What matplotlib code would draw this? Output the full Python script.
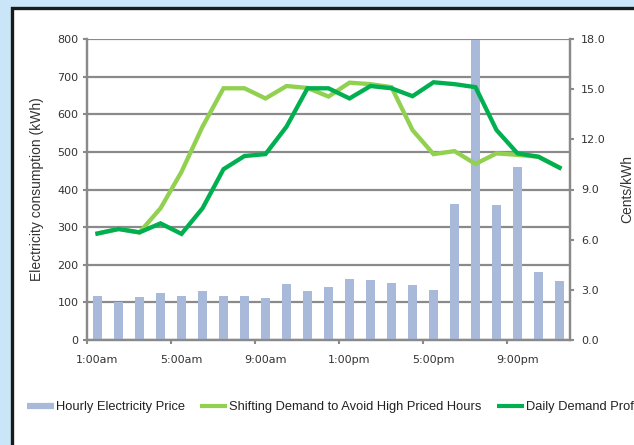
import numpy as np
import matplotlib.pyplot as plt
from matplotlib.patches import Rectangle
from matplotlib.lines import Line2D

hours = ['1:00am', '2:00am', '3:00am', '4:00am', '5:00am', '6:00am', '7:00am', '8:00am',
         '9:00am', '10:00am', '11:00am', '12:00pm', '1:00pm', '2:00pm', '3:00pm', '4:00pm',
         '5:00pm', '6:00pm', '7:00pm', '8:00pm', '9:00pm', '10:00pm', '11:00pm']
price = [2.63, 2.29, 2.57, 2.81, 2.63, 2.93, 2.63, 2.63, 2.51, 3.33, 2.93, 3.17,
         3.63, 3.57, 3.39, 3.27, 2.99, 8.11, 17.94, 8.05, 10.33, 4.09, 3.51]
shifting = [283, 295, 286, 350, 447, 567, 669, 669, 642, 675, 670, 647,
            684, 680, 672, 558, 494, 502, 468, 496, 492, 487, 458]
daily = [283, 295, 286, 310, 282, 350, 454, 489, 494, 567, 669, 669,
         642, 675, 669, 648, 685, 680, 672, 558, 496, 487, 458]

bar_c = '#a9b9da'
light_c = '#92d050'
dark_c = '#00b050'
grid_c = '#8a8a8a'
txt_c = '#333333'

W, H = 634, 445
fig = plt.figure(figsize=(W / 100, H / 100), dpi=100)
fig.patch.set_facecolor('#c9e5f7')
fig.patches.append(Rectangle((11.5 / W, -0.1), 1.2, 1.1 - 8 / H, transform=fig.transFigure,
                             facecolor='white', edgecolor='#1a1a1a', linewidth=2.4, zorder=-5))

pos = [87 / W, 1 - 340 / H, (570 - 87) / W, (340 - 39) / H]
ax = fig.add_axes(pos)
ax2 = ax.twinx()
ax3 = ax.twinx()

x = np.arange(len(hours))

# gridlines (behind bars)
ax.set_ylim(0, 800)
ax.set_yticks(range(0, 801, 100))
ax.grid(axis='y', color=grid_c, linewidth=1.6)
ax.set_axisbelow(True)
ax.set_facecolor('none')

# bars on right axis
ax2.bar(x, price, width=0.4, color=bar_c, zorder=2)
ax2.set_ylim(0, 18)
ax2.set_yticks(np.arange(0, 18.1, 3))
ax2.set_yticklabels(['%.1f' % v for v in np.arange(0, 18.1, 3)])

# lines on top
ax3.plot(x, shifting, color=light_c, linewidth=3.1, solid_joinstyle='miter')
ax3.plot(x, daily, color=dark_c, linewidth=3.1, solid_joinstyle='miter')
ax3.set_ylim(0, 800)
ax3.set_yticks([])
for s in ax3.spines.values():
    s.set_visible(False)

ax.set_xlim(-0.5, len(hours) - 0.5)
ax.set_xticks(np.arange(-0.5, len(hours) - 1, 4))
ax.set_xticklabels([])
ax.set_xticks(x[::4], minor=True)
ax.set_xticklabels(hours[::4], minor=True)
ax.tick_params(axis='x', which='major', length=3, width=1.5, color=grid_c, direction='out')
ax.tick_params(axis='x', which='minor', length=0, pad=11, labelsize=8, labelcolor=txt_c)
ax.tick_params(axis='y', length=3, width=1.5, color=grid_c, pad=3, labelsize=8, labelcolor=txt_c)
ax2.tick_params(axis='y', length=3, width=1.5, color=grid_c, pad=5, labelsize=8, labelcolor=txt_c)

for a in (ax, ax2):
    a.spines['top'].set_visible(False)
    for k in ('left', 'right', 'bottom'):
        a.spines[k].set_color(grid_c)
        a.spines[k].set_linewidth(1.6)

ax.set_ylabel('Electricity consumption (kWh)', family=['Liberation Sans', 'DejaVu Sans'],
              fontsize=10, color=txt_c, labelpad=10)
ax2.set_ylabel('Cents/kWh', family=['Liberation Sans', 'DejaVu Sans'],
               fontsize=10, color=txt_c, labelpad=10)

handles = [Line2D([], [], color=bar_c, linewidth=4.5, solid_capstyle='butt'),
           Line2D([], [], color=light_c, linewidth=3, solid_capstyle='butt'),
           Line2D([], [], color=dark_c, linewidth=3, solid_capstyle='butt')]
labels = ['Hourly Electricity Price', 'Shifting Demand to Avoid High Priced Hours',
          'Daily Demand Profile']
fig.legend(handles, labels, loc='center left', bbox_to_anchor=(15 / W, 1 - 407 / H),
           ncol=3, frameon=False, handlelength=2.1, handletextpad=0.15, columnspacing=1.2,
           prop={'family': ['Liberation Sans', 'DejaVu Sans'], 'size': 9.3},
           labelcolor='#222222')

fig.savefig('out.png', dpi=100, facecolor=fig.get_facecolor())
